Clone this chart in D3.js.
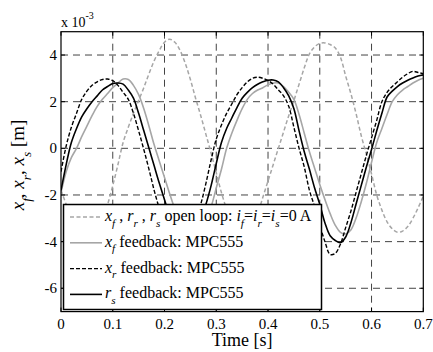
<!DOCTYPE html>
<html>
<head>
<meta charset="utf-8">
<script src="https://cdn.jsdelivr.net/npm/d3@7"></script>
<style>
  body { margin: 0; background: #fff; }
</style>
</head>
<body>
<div id="chart"></div>
<script>
// sample times, 10 ms apart (0 ... 0.7 s)
var times = d3.range(71).map(function(i){ return i / 100; });

// values in units of 1e-3 m
var openLoop = [-1.8,-2.4,-3.0,-3.4,-3.6,-3.6,-3.55,-3.35,-2.95,-2.4,
  -1.6,-0.7,0.25,0.9,1.5,2.05,2.6,3.2,3.75,4.2,
  4.55,4.68,4.55,4.2,3.65,2.95,2.15,1.4,0.6,-0.2,
  -1.05,-1.9,-2.6,-3.1,-3.45,-3.6,-3.55,-3.3,-2.8,-2.1,
  -1.4,-0.7,0.0,0.7,1.4,2.05,2.75,3.45,4.05,4.35,
  4.5,4.52,4.45,4.3,3.9,3.1,2.35,1.5,0.55,-0.25,
  -1.1,-2.0,-2.65,-3.15,-3.45,-3.6,-3.55,-3.35,-3.0,-2.55,-2.05];

var xfFeedback = [-1.9,-1.0,-0.4,0.0,0.5,0.95,1.4,1.8,2.1,2.35,
  2.6,2.8,2.97,2.95,2.7,2.3,1.7,0.95,0.15,-0.55,
  -1.25,-1.95,-2.6,-3.1,-3.5,-3.7,-3.65,-3.4,-3.0,-2.5,
  -1.7,-0.9,0.0,0.65,1.2,1.7,2.1,2.35,2.5,2.6,
  2.72,2.8,2.8,2.65,2.4,2.1,1.45,0.65,-0.15,-0.85,
  -1.55,-2.2,-2.8,-3.3,-3.6,-3.67,-3.5,-3.0,-2.3,-1.5,
  -0.6,0.25,0.85,1.45,2.0,2.3,2.5,2.65,2.8,2.92,3.0];

var xrFeedback = [-1.0,0.1,0.9,1.5,2.1,2.45,2.7,2.85,2.95,2.97,
  2.9,2.7,2.4,2.1,1.5,0.75,-0.05,-0.9,-1.8,-2.6,
  -3.4,-4.0,-4.4,-4.5,-4.3,-3.8,-3.1,-2.4,-1.5,-0.5,
  0.4,1.0,1.5,1.9,2.3,2.6,2.85,3.0,3.05,3.0,
  2.9,2.75,2.5,2.25,1.8,0.9,0.0,-0.8,-1.8,-2.5,
  -3.3,-4.0,-4.55,-4.5,-4.1,-3.4,-2.7,-1.9,-1.1,-0.3,
  0.45,1.2,2.0,2.4,2.65,2.85,3.05,3.2,3.3,3.25,3.2];

var rsFeedback = [-1.8,-0.7,0.25,0.85,1.35,1.7,2.0,2.25,2.5,2.65,
  2.78,2.8,2.75,2.5,2.15,1.5,0.75,0.0,-0.75,-1.5,
  -2.2,-2.9,-3.5,-3.9,-4.0,-3.9,-3.5,-3.0,-2.4,-1.6,
  -0.65,0.25,0.85,1.3,1.75,2.15,2.4,2.6,2.75,2.85,
  2.92,2.93,2.85,2.6,2.25,1.7,0.75,-0.15,-0.9,-1.7,
  -2.4,-3.2,-3.75,-3.95,-4.04,-3.8,-3.2,-2.4,-1.6,-0.8,
  -0.05,0.75,1.5,2.2,2.45,2.65,2.8,2.92,3.02,3.1,3.15];

var xTicks = [0, 0.1, 0.2, 0.3, 0.4, 0.5, 0.6, 0.7];
var yTicks = [-6, -4, -2, 0, 2, 4];

var width = 433, height = 352;
var margin = {top: 31.7, right: 9.7, bottom: 40.4, left: 61};
var FONT = "'Liberation Serif', 'Times New Roman', 'DejaVu Serif', serif";

var svg = d3.select("#chart").append("svg")
    .attr("width", width)
    .attr("height", height)
    .attr("font-family", FONT);

var x = d3.scaleLinear().domain([0, 0.7]).range([margin.left, width - margin.right]);
var y = d3.scaleLinear().domain([-7, 5]).range([height - margin.bottom, margin.top]);

svg.append("defs").append("clipPath").attr("id", "clip")
  .append("rect")
    .attr("x", x(0)).attr("y", y(5))
    .attr("width", x(0.7) - x(0)).attr("height", y(-7) - y(5));

// grid
var grid = svg.append("g").attr("stroke", "#444").attr("stroke-width", 1).attr("stroke-dasharray", "7,5");
grid.selectAll(".vg").data(xTicks.slice(1, -1)).enter().append("line")
    .attr("x1", function(d){ return x(d); }).attr("x2", function(d){ return x(d); })
    .attr("y1", y(5)).attr("y2", y(-7));
grid.selectAll(".hg").data(yTicks).enter().append("line")
    .attr("y1", function(d){ return y(d); }).attr("y2", function(d){ return y(d); })
    .attr("x1", x(0)).attr("x2", x(0.7));

// series
var line = d3.line()
    .x(function(d, i){ return x(times[i]); })
    .y(function(d){ return y(d); })
    .curve(d3.curveCatmullRom);

var series = [
  {data: openLoop,   color: "#a6a6a6", dash: "4,2.5", w: 1.5},
  {data: xfFeedback, color: "#a6a6a6", dash: null,    w: 1.6},
  {data: xrFeedback, color: "#000",    dash: "4,2",   w: 1.4},
  {data: rsFeedback, color: "#000",    dash: null,    w: 1.6}
];

var plot = svg.append("g").attr("clip-path", "url(#clip)");
series.forEach(function(s){
  plot.append("path")
    .attr("d", line(s.data))
    .attr("fill", "none")
    .attr("stroke", s.color)
    .attr("stroke-width", s.w)
    .attr("stroke-dasharray", s.dash);
});

// axes box + inward ticks
svg.append("rect")
    .attr("x", x(0)).attr("y", y(5))
    .attr("width", x(0.7) - x(0)).attr("height", y(-7) - y(5))
    .attr("fill", "none").attr("stroke", "#000").attr("stroke-width", 1.2);

var tk = svg.append("g").attr("stroke", "#000").attr("stroke-width", 1);
xTicks.forEach(function(t){
  tk.append("line").attr("x1", x(t)).attr("x2", x(t)).attr("y1", y(-7)).attr("y2", y(-7) - 4);
  tk.append("line").attr("x1", x(t)).attr("x2", x(t)).attr("y1", y(5)).attr("y2", y(5) + 4);
});
yTicks.forEach(function(t){
  tk.append("line").attr("y1", y(t)).attr("y2", y(t)).attr("x1", x(0)).attr("x2", x(0) + 4);
  tk.append("line").attr("y1", y(t)).attr("y2", y(t)).attr("x1", x(0.7)).attr("x2", x(0.7) - 4);
});

// tick labels
svg.selectAll(".xl").data(xTicks).enter().append("text")
    .attr("x", function(d){ return x(d); })
    .attr("y", y(-7) + 17)
    .attr("text-anchor", "middle")
    .attr("font-family", FONT)
    .style("font-size", "15px")
    .text(function(d){ return d; });

svg.selectAll(".yl").data(yTicks).enter().append("text")
    .attr("x", x(0) - 4)
    .attr("y", function(d){ return y(d) + 5; })
    .attr("text-anchor", "end")
    .attr("font-family", FONT)
    .style("font-size", "15px")
    .text(function(d){ return d; });

// exponent
var ex = svg.append("text").attr("x", x(0)).attr("y", 27).attr("font-family", FONT).style("font-size", "14px");
ex.append("tspan").text("x 10");
ex.append("tspan").attr("dy", -8).style("font-size", "10px").text("-3");

// axis labels
svg.append("text")
    .attr("x", (x(0) + x(0.7)) / 2)
    .attr("y", 346)
    .attr("text-anchor", "middle")
    .attr("font-family", FONT)
    .style("font-size", "18px")
    .text("Time [s]");

// rich text helper: pieces of [text, kind] where kind: "" normal, "i" italic, "s" italic subscript
function richText(sel, pieces, size){
  var sub = 0;
  pieces.forEach(function(p){
    var ts = sel.append("tspan").text(p[0]);
    if (p[1] === "i") ts.style("font-style", "italic");
    if (p[1] === "s") {
      ts.style("font-style", "italic").style("font-size", (size * 0.7) + "px").attr("dy", size * 0.35);
      sub = 1;
    } else if (sub) {
      ts.attr("dy", -size * 0.35);
      sub = 0;
    }
  });
}

var yl = svg.append("text")
    .attr("transform", "translate(24," + 165 + ") rotate(-90)")
    .attr("text-anchor", "middle")
    .attr("font-family", FONT)
    .style("font-size", "19px");
richText(yl, [["x","i"],["f","s"],[", ",""],["x","i"],["r","s"],[", ",""],["x","i"],["s","s"],[" [m]",""]], 19);

// legend
var legendLabels = [
  [["x","i"],["f","s"],[" , ",""],["r","i"],["r","s"],[" , ",""],["r","i"],["s","s"],[" open loop: ",""],
   ["i","i"],["f","s"],["=",""],["i","i"],["r","s"],["=",""],["i","i"],["s","s"],["=0 A",""]],
  [["x","i"],["f","s"],[" feedback: MPC555",""]],
  [["x","i"],["r","s"],[" feedback: MPC555",""]],
  [["r","i"],["s","s"],[" feedback: MPC555",""]]
];

var lg = svg.append("g");
lg.append("rect")
    .attr("x", 63.5).attr("y", 204.5)
    .attr("width", 258).attr("height", 105)
    .attr("fill", "#fff").attr("stroke", "#000").attr("stroke-width", 1.5);

legendLabels.forEach(function(lab, i){
  var ly = 217 + i * 25.8;
  var s = series[i];
  lg.append("line")
    .attr("x1", 70).attr("x2", 102)
    .attr("y1", ly).attr("y2", ly)
    .attr("stroke", s.color).attr("stroke-width", s.w)
    .attr("stroke-dasharray", s.dash);
  var t = lg.append("text").attr("x", 105).attr("y", ly + 4).attr("font-family", FONT).style("font-size", "16px");
  richText(t, lab, 16);
});
</script>
</body>
</html>
